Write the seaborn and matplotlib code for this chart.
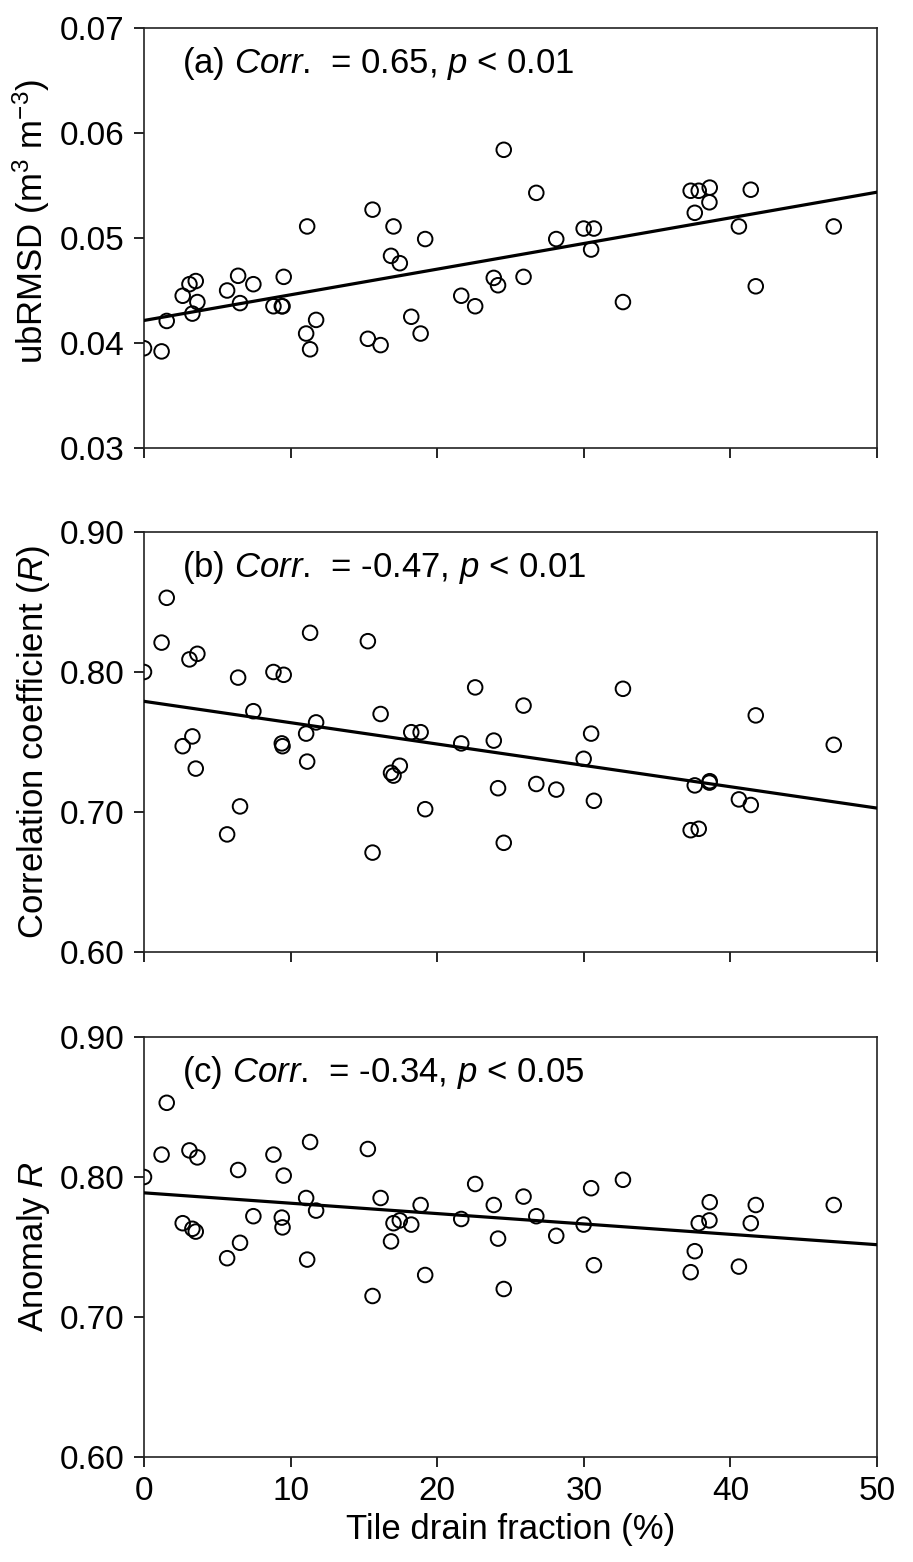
import matplotlib
matplotlib.use("Agg")
import matplotlib.pyplot as plt
from matplotlib.ticker import FormatStrFormatter, MultipleLocator
import seaborn as sns
import pandas as pd

# ---------------- data ----------------
tile_frac = [0.0, 1.2, 1.55, 2.64, 3.1, 3.3, 3.53, 3.64, 5.67, 6.42,
             6.55, 7.46, 8.83, 9.4, 9.45, 9.53, 11.06, 11.13, 11.33, 11.74,
             15.27, 15.59, 16.14, 16.85, 17.02, 17.45, 18.23, 18.87, 19.18, 21.64,
             22.59, 23.86, 24.15, 24.54, 25.89, 26.76, 28.12, 29.99, 30.5, 30.69,
             32.67, 37.29, 37.57, 37.84, 38.57, 38.59, 40.58, 41.39, 41.73, 47.05]

ubrmsd = [0.0395, 0.0392, 0.0421, 0.0445, 0.0456, 0.0428, 0.0459, 0.0439, 0.0450, 0.0464,
          0.0438, 0.0456, 0.0435, 0.0435, 0.0435, 0.0463, 0.0409, 0.0511, 0.0394, 0.0422,
          0.0404, 0.0527, 0.0398, 0.0483, 0.0511, 0.0476, 0.0425, 0.0409, 0.0499, 0.0445,
          0.0435, 0.0462, 0.0455, 0.0584, 0.0463, 0.0543, 0.0499, 0.0509, 0.0489, 0.0509,
          0.0439, 0.0545, 0.0524, 0.0545, 0.0534, 0.0548, 0.0511, 0.0546, 0.0454, 0.0511]

corr_r = [0.800, 0.821, 0.853, 0.747, 0.809, 0.754, 0.731, 0.813, 0.684, 0.796,
          0.704, 0.772, 0.800, 0.749, 0.747, 0.798, 0.756, 0.736, 0.828, 0.764,
          0.822, 0.671, 0.770, 0.728, 0.726, 0.733, 0.757, 0.757, 0.702, 0.749,
          0.789, 0.751, 0.717, 0.678, 0.776, 0.720, 0.716, 0.738, 0.756, 0.708,
          0.788, 0.687, 0.719, 0.688, 0.721, 0.722, 0.709, 0.705, 0.769, 0.748]

anom_r = [0.800, 0.816, 0.853, 0.767, 0.819, 0.763, 0.761, 0.814, 0.742, 0.805,
          0.753, 0.772, 0.816, 0.771, 0.764, 0.801, 0.785, 0.741, 0.825, 0.776,
          0.820, 0.715, 0.785, 0.754, 0.767, 0.769, 0.766, 0.780, 0.730, 0.770,
          0.795, 0.780, 0.756, 0.720, 0.786, 0.772, 0.758, 0.766, 0.792, 0.737,
          0.798, 0.732, 0.747, 0.767, 0.769, 0.782, 0.736, 0.767, 0.780, 0.780]

panel_texts = [r"(a) $Corr$.  = 0.65, $p$ < 0.01",
               r"(b) $Corr$.  = -0.47, $p$ < 0.01",
               r"(c) $Corr$.  = -0.34, $p$ < 0.05"]
y_labels = [r"ubRMSD (m$^{3}$ m$^{-3}$)",
            r"Correlation coefficient ($R$)",
            r"Anomaly $R$"]
x_label = "Tile drain fraction (%)"
y_limits = [(0.03, 0.07), (0.60, 0.90), (0.60, 0.90)]
y_steps = [0.01, 0.10, 0.10]
x_ticks = [0, 10, 20, 30, 40, 50]

df = pd.DataFrame({"tile": tile_frac, "ubrmsd": ubrmsd, "r": corr_r, "anom": anom_r})
cols = ["ubrmsd", "r", "anom"]

# ---------------- style ----------------
sns.set_style("ticks")
plt.rcParams["font.family"] = ["Liberation Sans", "DejaVu Sans"]
plt.rcParams["mathtext.fontset"] = "custom"
plt.rcParams["mathtext.rm"] = "Liberation Sans"
plt.rcParams["mathtext.it"] = "Liberation Sans:italic"
plt.rcParams["mathtext.bf"] = "Liberation Sans:bold"
plt.rcParams["text.color"] = "black"
plt.rcParams["axes.labelcolor"] = "black"
plt.rcParams["xtick.color"] = "black"
plt.rcParams["ytick.color"] = "black"

FS_TICK = 24
FS_LAB = 25
fig = plt.figure(figsize=(9.13, 15.62), dpi=100)

W, H = 913.0, 1562.0
left_px, right_px = 144, 877
tops = [28, 532, 1037]
bottoms = [448, 952, 1457]

for i in range(3):
    ax = fig.add_axes([left_px / W, 1 - bottoms[i] / H,
                       (right_px - left_px) / W, (bottoms[i] - tops[i]) / H])
    ax.set_xlim(0, 50)
    ax.set_ylim(*y_limits[i])
    sns.regplot(data=df, x="tile", y=cols[i], ax=ax, ci=None, truncate=False,
                color="black",
                scatter_kws=dict(facecolors="none", edgecolors="black", s=110,
                                 linewidths=1.4, alpha=1, zorder=3),
                line_kws=dict(color="black", lw=2.3, zorder=4))
    ax.set_xlim(0, 50)
    ax.set_ylim(*y_limits[i])
    ax.set_xticks(x_ticks)
    ax.yaxis.set_major_locator(MultipleLocator(y_steps[i]))
    ax.yaxis.set_major_formatter(FormatStrFormatter("%.2f"))
    ax.tick_params(axis="both", direction="out", length=7, width=1.2,
                   labelsize=FS_TICK, colors="black", pad=7)
    for sp in ax.spines.values():
        sp.set_visible(True)
        sp.set_linewidth(1.2)
        sp.set_color("#222222")
    ax.set_ylabel(y_labels[i], fontsize=FS_LAB, color="black")
    if i == 0:
        ax.yaxis.set_label_coords(-0.125, 0.54)
    else:
        ax.yaxis.set_label_coords(-0.125, 0.5)
    if i < 2:
        ax.set_xlabel("")
        ax.tick_params(axis="x", labelbottom=False)
    else:
        ax.set_xlabel(x_label, fontsize=FS_LAB, labelpad=4, color="black")
    ax.text(0.052, 0.915, panel_texts[i], transform=ax.transAxes,
            fontsize=FS_LAB, ha="left", va="center", color="black")

fig.savefig("out.png", dpi=100)
